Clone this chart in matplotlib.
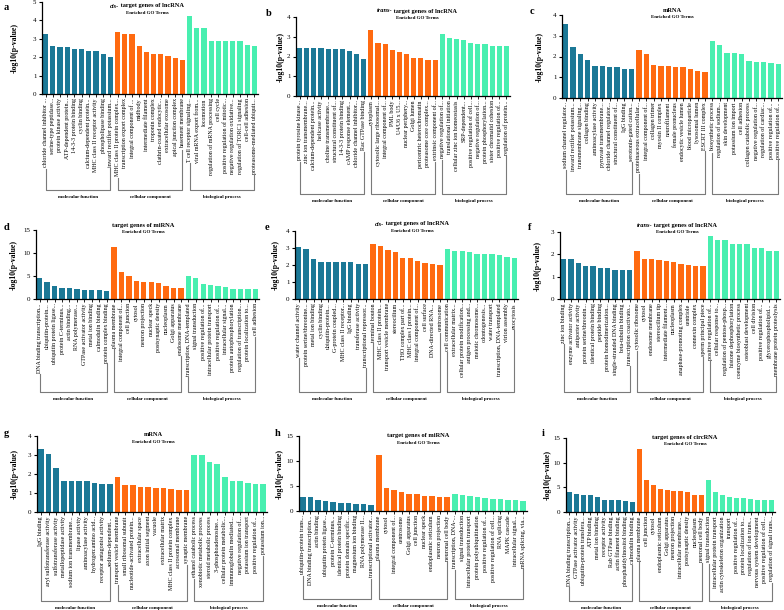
import matplotlib
matplotlib.use("Agg")
import matplotlib.pyplot as plt
from matplotlib.lines import Line2D

plt.rcParams['font.family'] = ['Liberation Serif', 'DejaVu Serif']

GROUPS = ["molecular function", "cellular component", "biological process"]
COLORS = ["#1b7896", "#ff6a10", "#48efb0"]

# a: cis- target genes of lncRNA
a_terms = ["chloride channel inhibitor ...", "serine-type peptidase...", "protein kinase activity",
           "ATP-dependent protein...", "14-3-3 protein binding", "cyclin binding",
           "calcium-dependent protein...", "MHC class II receptor activity", "phospholipase binding",
           "inward rectifier potassium...",
           "MHC class II protein complex...", "transcription export complex", "integral component of ...",
           "midbody", "intermediate filament", "troponin complex", "clathrin-coated endocytic...",
           "extracellular exosome", "apical junction complex", "basement membrane",
           "T cell receptor signaling...", "viral mRNA export from...", "locomotion",
           "regulation of mRNA processing", "cell cycle", "positive regulation of mitotic...",
           "negative regulation oxidative...", "regulation of TORC1 signaling", "cell-cell adhesion",
           "proteasome-mediated ubiquit..."]
a_vals = [3.28, 2.62, 2.56, 2.53, 2.42, 2.42, 2.31, 2.31, 2.15, 2.02,
          3.36, 3.28, 3.27, 2.62, 2.27, 2.15, 2.15, 2.09, 1.97, 1.84,
          4.26, 3.59, 3.59, 2.89, 2.89, 2.87, 2.87, 2.87, 2.67, 2.62]

# b: trans- target genes of lncRNA
b_terms = ["protein tyrosine kinase...", "zinc ion transmembrane...", "calcium-dependent protein...",
           "helicase activity", "choline transmembrane...", "structural constituent of...",
           "14-3-3 protein binding", "cAMP response element...", "chloride channel inhibitor...",
           "Rac GTPase binding",
           "cytoplasm", "cytosolic large ribosomal...", "integral component of...", "PML body",
           "U4/U6 x U5...", "nuclear periphery...", "Golgi lumen", "pericentric heterochromatin",
           "proteasome core complex...", "extrinsic component of...",
           "negative regulation of...", "translational initiation", "cellular zinc ion homeostasis",
           "SRP-dependent...", "positive regulation of cell...", "negative regulation of...",
           "protein phosphorylation...", "sister chromatid cohesion", "positive regulation of...",
           "regulation of protein..."]
b_vals = [2.45, 2.45, 2.41, 2.41, 2.40, 2.40, 2.36, 2.26, 2.14, 1.89,
          3.36, 2.67, 2.65, 2.35, 2.23, 2.11, 1.94, 1.91, 1.84, 1.82,
          3.12, 2.94, 2.89, 2.82, 2.68, 2.62, 2.62, 2.55, 2.55, 2.55]

# c: mRNA
c_terms = ["sodium channel regulator...", "inward rectifier potassium...", "transmembrane signaling...",
           "collagen binding", "aminoacylase activity", "pyruvate transmembrane...",
           "chloride channel regulator...", "structural constituent of...", "IgG binding",
           "serotonin-gated cation...",
           "proteinaceous extracellular...", "integral component of...", "collagen trimer",
           "myosin II complex", "neurofilament", "female pronucleus", "endocytic vesicle lumen",
           "blood microparticle", "lysosomal lumen", "ESCRT III complex",
           "biosynthetic process", "regulation of sodium...", "skin development",
           "potassium ion import", "cell adhesion", "collagen catabolic process",
           "negative regulation of...", "regulation of cardiac...", "positive regulation of...",
           "positive regulation of..."]
c_vals = [3.55, 2.47, 2.10, 1.81, 1.56, 1.56, 1.47, 1.47, 1.40, 1.40,
          2.29, 2.11, 1.60, 1.56, 1.56, 1.47, 1.47, 1.40, 1.32, 1.23,
          2.74, 2.55, 2.18, 2.15, 2.10, 1.76, 1.73, 1.73, 1.69, 1.63]

# d: target genes of miRNA
d_terms = ["DNA binding transcription...", "ubiquitin-protein...", "ubiquitin protein ligase...",
           "protein C-terminus...", "actin binding...", "RNA polymerase...",
           "GTPase activator activity", "metal ion binding", "calmodulin binding",
           "protein complex binding",
           "plasma membrane", "integral component of...", "cell junction", "cytosol",
           "neuron projection", "nuclear speck", "postsynaptic density", "nucleoplasm",
           "Golgi apparatus", "endosome membrane",
           "transcription, DNA-templated", "signal transduction", "positive regulation of...",
           "intracellular protein transport", "positive regulation of...", "intracellular signal...",
           "protein autophosphorylation", "regulation of transcription...", "protein localization to...",
           "cell adhesion"]
d_vals = [4.66, 3.79, 2.77, 2.33, 2.33, 2.19, 2.04, 1.89, 1.89, 1.75,
          11.2, 5.83, 5.10, 4.00, 3.64, 3.64, 3.42, 2.84, 2.48, 2.40,
          5.10, 4.59, 3.20, 2.99, 2.77, 2.69, 2.26, 2.19, 2.19, 2.11]

# e: cis- target genes of lncRNA
e_terms = ["water channel activity", "protein serine/threonine...", "metal ion binding",
           "cyclin binding", "ubiquitin-protein...", "G-protein coupled...",
           "MHC class II receptor...", "IgG binding", "transferase activity",
           "transcriptional repressor...",
           "terminal bouton", "MHC class II protein...", "transport vesicle membrane",
           "stereocilium", "THO complex part of...", "MHC class I protein...",
           "integral component of...", "cell surface", "DNA-directed RNA...", "centrosome",
           "cell communication", "extracellular matrix...", "cellular protein modification...",
           "antigen processing and...", "meiotic chromosome...", "odontogenesis...",
           "water transport", "transcription, DNA-templated", "virion assembly", "exocytosis"]
e_vals = [3.04, 2.92, 2.35, 2.18, 2.18, 2.18, 2.16, 2.16, 2.06, 2.04,
          3.22, 3.12, 2.88, 2.76, 2.39, 2.39, 2.22, 2.12, 2.08, 2.00,
          2.94, 2.82, 2.82, 2.76, 2.65, 2.63, 2.63, 2.59, 2.45, 2.41]

# f: trans- target genes of lncRNA
f_terms = ["zinc ion binding", "enzyme activator activity", "antiporter activity",
           "protein serine/threonin...", "identical protein binding", "peptide binding",
           "protein homodimerization...", "single-stranded DNA binding", "beta-tubulin binding",
           "transcription coactivato...",
           "cytosolic ribosome", "cytosol", "endosome membrane", "stereocilium tip",
           "intermediate filament...", "nucleoplasm", "anaphase-promoting complex", "centriole",
           "connexin complex", "sperm principal piece",
           "positive regulation of...", "cellular response to...", "regulation of pentose-phosp...",
           "histone dephosphorylation", "coenzyme biosynthetic process", "osteoblast development",
           "cell division", "positive regulation of...", "glycerophospholipid...",
           "membrane protein proteolysis"]
f_vals = [1.81, 1.78, 1.62, 1.49, 1.47, 1.38, 1.38, 1.31, 1.31, 1.29,
          2.17, 1.81, 1.78, 1.74, 1.68, 1.65, 1.56, 1.53, 1.50, 1.46,
          2.82, 2.63, 2.63, 2.45, 2.45, 2.45, 2.30, 2.30, 2.17, 2.17]

# g: mRNA
g_terms = ["IgG binding", "aryl sulfotransferase activity", "sulfotransferase activity",
           "metallopeptidase activity", "sodium ion transmembrane...", "lipase activity",
           "aminoacylase activity", "hydrogen:amino acid...", "receptor antagonist activity",
           "sodium-dependent...",
           "transport vesicle membrane", "small ribosomal subunit", "nucleotide-activated protein...",
           "extracellular space", "axon initial segment", "vacuole", "extracellular matrix",
           "MHC class II protein complex", "acrosomal membrane", "synaptic membrane",
           "ethanol catabolic process", "xenobiotic metabolic process", "steroid metabolic process",
           "3'-phosphoadenosine...", "cellular protein metabolic...", "immunoglobulin mediated...",
           "negative regulation of...", "potassium ion transport", "positive regulation of...",
           "potassium ion..."]
g_vals = [3.33, 3.04, 2.33, 1.65, 1.63, 1.63, 1.63, 1.54, 1.47, 1.47,
          1.86, 1.40, 1.40, 1.33, 1.30, 1.26, 1.25, 1.19, 1.18, 1.14,
          3.02, 3.02, 2.61, 2.54, 1.84, 1.63, 1.63, 1.51, 1.49, 1.47]

# h: target genes of miRNA
h_terms = ["ubiquitin-protein trans...", "DNA binding transcription...", "actin binding",
           "ubiquitin protein ligase...", "protein C-terminus...", "identical protein binding",
           "protein domain specific...", "magnesium ion binding", "RNA polymerase II...",
           "transcriptional activator...",
           "plasma membrane", "cytosol", "integral component of...", "centrosome",
           "Golgi apparatus", "cell junction", "nuclear speck", "endoplasmic reticulum",
           "neuron projection", "neuronal cell body",
           "transcription, DNA-...", "signal transduction", "intracellular protein transport",
           "protein polyubiquitination", "positive regulation of...", "positive regulation of cell...",
           "RNA splicing", "MAPK cascade", "intracellular signal...", "mRNA splicing, via..."]
h_vals = [2.85, 2.85, 2.19, 1.92, 1.73, 1.59, 1.53, 1.33, 1.33, 1.26,
          11.15, 4.64, 4.11, 3.72, 3.45, 3.38, 3.05, 2.92, 2.79, 2.72,
          3.32, 3.12, 2.99, 2.72, 2.65, 2.39, 2.32, 2.19, 2.12, 2.06]

# i: target genes of circRNA
i_terms = ["DNA binding transcription...", "GTPase activator activity", "ubiquitin-protein transfera...",
           "ATP binding", "metal ion binding", "receptor activity", "Rab GTPase binding",
           "actin filament binding", "phosphatidylinositol binding", "calmodulin binding",
           "plasma membrane", "cell junction", "cytosol", "endoplasmic reticulum",
           "Golgi apparatus", "neuron projection", "intracellular membrane...",
           "postsynaptic density", "nucleoplasm", "neuronal cell body",
           "signal transduction", "intracellular protein transport", "actin cytoskeleton organization",
           "transport", "positive regulation of...", "protein localization to...",
           "regulation of ion trans...", "nervous system development", "positive regulation of cell...",
           "regulation of signal trans..."]
i_vals = [3.99, 3.72, 3.45, 3.38, 3.11, 2.50, 2.50, 2.36, 2.23, 2.03,
          12.84, 6.55, 5.54, 4.73, 4.53, 4.19, 4.19, 3.99, 3.51, 3.38,
          6.42, 4.12, 3.38, 3.11, 2.84, 2.84, 2.70, 2.50, 2.43, 2.36]

W, H = 784, 610
fig = plt.figure(figsize=(W / 100, H / 100), dpi=100)
fig.patch.set_facecolor("white")

# letter, title prefix (italic), title, terms, values, ymax, ystep,
# axes box in px (left, top, right, bottom), ylabel x, title xy, letter xy, bracket y
panels = [
    ("a", "cis-", " target genes of lncRNA", a_terms, a_vals, 5, 1, (42, 2, 258, 94), 15, (147, 6), (4, 7), 190),
    ("b", "trans-", " target genes of lncRNA", b_terms, b_vals, 4, 1, (296, 17, 510, 96), 281, (417, 11), (266, 14), 194),
    ("c", "", "mRNA", c_terms, c_vals, 4, 1, (562, 15, 782, 98), 540, (672, 10), (530, 11), 194),
    ("d", "", "target genes of miRNA", d_terms, d_vals, 15, 5, (36, 230, 259, 299), 14, (143, 225), (4, 228), 392),
    ("e", "cis-", " target genes of lncRNA", e_terms, e_vals, 4, 1, (295, 231, 518, 299), 276, (412, 224), (265, 228), 392),
    ("f", "trans-", " target genes of lncRNA", f_terms, f_vals, 3, 1, (560, 232, 780, 299), 538, (677, 225), (528, 228), 392),
    ("g", "", "mRNA", g_terms, g_vals, 4, 1, (37, 436, 267, 512), 15, (153, 435), (4, 433), 601),
    ("h", "", "target genes of miRNA", h_terms, h_vals, 15, 5, (299, 436, 527, 511), 280, (418, 436), (275, 434), 599),
    ("i", "", "target genes of circRNA", i_terms, i_vals, 15, 5, (566, 438, 775, 512), 548, (685, 437), (542, 434), 601),
]


def fx(px):
    return px / W


def fy(py):
    return 1 - py / H


axes_info = []
for (letter, prefix, title, terms, vals, ymax, ystep, box, ylab_x,
     tpos, lpos, bry) in panels:
    l, t, r, b = box
    ax = fig.add_axes([fx(l), fy(b), (r - l) / W, (b - t) / H])
    n = len(vals)
    cols = [COLORS[k // 10] for k in range(n)]
    ax.bar(range(n), vals, width=0.72, color=cols, zorder=2)
    ax.set_xlim(-0.5, n - 0.5)
    ax.set_ylim(0, ymax)
    ax.set_yticks(range(0, ymax + 1, ystep))
    ax.set_xticks(range(n))
    ax.set_xticklabels(terms, rotation=90, fontsize=4.3, va="top", ha="center")
    ax.tick_params(axis="x", length=2, width=0.6, pad=1)
    ax.tick_params(axis="y", length=2.5, width=0.8, pad=1.5, labelsize=5)
    for s in ("top", "right"):
        ax.spines[s].set_visible(False)
    for s in ("left", "bottom"):
        ax.spines[s].set_linewidth(0.9)
    fig.text(fx(ylab_x), fy((t + b) / 2), "-log10(p-value)", rotation=90,
             fontsize=5.6, fontweight="bold", ha="center", va="center")
    fig.text(fx(lpos[0]), fy(lpos[1]), letter, fontsize=7.5, fontweight="bold",
             ha="left", va="center")
    axes_info.append((ax, prefix, title, tpos, bry, n))

fig.canvas.draw()
renderer = fig.canvas.get_renderer()

for ax, prefix, title, tpos, bry, n in axes_info:
    # title: italic prefix + bold rest, centred together
    tx, ty = tpos
    t_main = fig.text(0, fy(ty), title, fontsize=4.6, fontweight="bold", ha="left", va="center")
    w_main = t_main.get_window_extent(renderer).width
    w_pre = 0
    t_pre = None
    if prefix:
        t_pre = fig.text(0, fy(ty), prefix, fontsize=4.6, fontweight="bold",
                         fontstyle="italic", ha="left", va="center")
        w_pre = t_pre.get_window_extent(renderer).width
    x0 = tx - (w_pre + w_main) / 2
    if t_pre is not None:
        t_pre.set_x(fx(x0))
    t_main.set_x(fx(x0 + w_pre))
    fig.text(fx(tx), fy(ty + 7), "Enriched GO Terms", fontsize=3.6, fontweight="bold",
             ha="center", va="center")

    # group brackets below the tick labels
    labels = ax.get_xticklabels()
    for g in range(3):
        i0, i1 = g * 10, g * 10 + 9
        xa = ax.transData.transform((i0, 0))[0]
        xb = ax.transData.transform((i1, 0))[0]
        ya = H - labels[i0].get_window_extent(renderer).y0 + 1.5
        yb = H - labels[i1].get_window_extent(renderer).y0 + 1.5
        xs = [fx(xa), fx(xa), fx(xb), fx(xb)]
        ys = [fy(ya), fy(bry), fy(bry), fy(yb)]
        fig.add_artist(Line2D(xs, ys, color="#7a7a7a", lw=0.8))
        fig.text(fx((xa + xb) / 2), fy(bry + 7), GROUPS[g], fontsize=3.6,
                 fontweight="bold", ha="center", va="center")

fig.savefig("out.png", dpi=100)
